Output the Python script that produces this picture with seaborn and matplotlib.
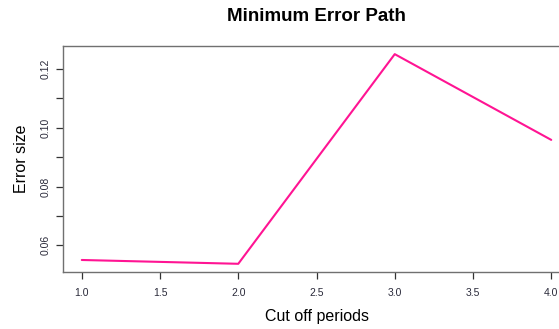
import matplotlib
matplotlib.use("Agg")
import matplotlib.pyplot as plt
import seaborn as sns
import pandas as pd

# Minimum error for each cut-off period
cutoff = [1, 2, 3, 4]
error = [0.0550, 0.0537, 0.1251, 0.0959]

x_ticks = [1.0, 1.5, 2.0, 2.5, 3.0, 3.5, 4.0]
y_ticks = [0.06, 0.07, 0.08, 0.09, 0.10, 0.11, 0.12]
y_tick_labels = ["0.06", "", "0.08", "", "0.10", "", "0.12"]

sns.set_style("white")
plt.rcParams["font.family"] = ["Liberation Sans", "DejaVu Sans"]
plt.rcParams["text.color"] = "black"
plt.rcParams["axes.labelcolor"] = "black"

df = pd.DataFrame({"cutoff": cutoff, "error": error})

fig = plt.figure(figsize=(5.59, 3.29), dpi=100)
ax = fig.add_axes([0.1127, 0.1723, 0.907, 0.689])

sns.lineplot(data=df, x="cutoff", y="error", ax=ax, color="#FF1493",
             linewidth=1.5, estimator=None)

ax.set_xlim(0.88, 4.12)
ax.set_ylim(0.0508, 0.128)
ax.set_xticks(x_ticks)
ax.set_xticklabels([f"{v:.1f}" for v in x_ticks])
ax.set_yticks(y_ticks)
ax.set_yticklabels(y_tick_labels, rotation=90, va="center")

for s in ax.spines.values():
    s.set_color("#707070")
    s.set_linewidth(1.0)
    s.set_visible(True)

ax.tick_params(axis="both", direction="out", length=5, width=0.9,
               color="#333333", labelsize=7.5, labelcolor="#2a2a3a",
               bottom=True, left=True)
ax.tick_params(axis="x", pad=6)
ax.tick_params(axis="y", pad=4)

ax.set_xlabel("Cut off periods", fontsize=11.5, labelpad=8.5)
ax.set_ylabel("Error size", fontsize=11.5, labelpad=8)
ax.set_title("Minimum Error Path", fontsize=13.5, fontweight="bold", pad=18,
             color="black")

fig.savefig("out.png", dpi=100)
